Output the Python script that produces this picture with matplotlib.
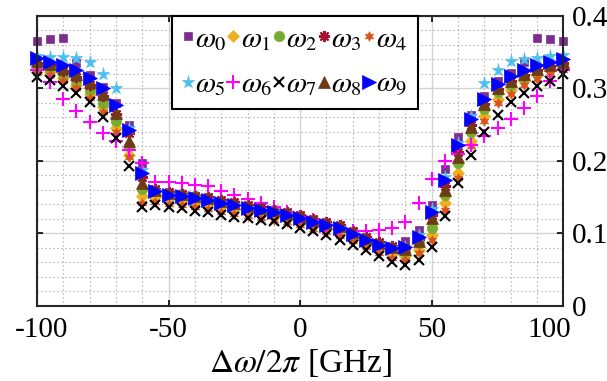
import numpy as np
import matplotlib
matplotlib.use("Agg")
import matplotlib.pyplot as plt
from matplotlib.ticker import MultipleLocator
from matplotlib.transforms import ScaledTranslation

plt.rcParams['font.family'] = ['Liberation Serif', 'DejaVu Serif']
plt.rcParams['mathtext.fontset'] = 'stix'
plt.rcParams['axes.unicode_minus'] = False

# detuning axis, -100..100 GHz in steps of 5
x = np.arange(-100, 101, 5)

w0 = [0.365, 0.368, 0.369, 0.335, 0.318, 0.302, 0.280, 0.250,
      0.197, 0.160, 0.154, 0.152, 0.150, 0.147, 0.143, 0.140, 0.136, 0.133, 0.130, 0.127,
      0.122, 0.117, 0.113, 0.108, 0.100, 0.092, 0.085, 0.082, 0.089, 0.105,
      0.139, 0.189, 0.233, 0.263, 0.290, 0.310, 0.322, 0.336, 0.369, 0.368, 0.365]
w1 = [0.328, 0.323, 0.315, 0.305, 0.292, 0.274, 0.245, 0.208,
      0.151, 0.150, 0.147, 0.145, 0.142, 0.140, 0.136, 0.133, 0.129, 0.126, 0.123, 0.120,
      0.115, 0.110, 0.106, 0.101, 0.093, 0.085, 0.078, 0.072, 0.069, 0.077,
      0.098, 0.142, 0.183, 0.228, 0.262, 0.285, 0.298, 0.310, 0.318, 0.325, 0.330]
w2 = [0.332, 0.328, 0.320, 0.310, 0.298, 0.280, 0.255, 0.220,
      0.162, 0.158, 0.156, 0.154, 0.151, 0.149, 0.145, 0.142, 0.138, 0.135, 0.132, 0.128,
      0.124, 0.119, 0.115, 0.110, 0.102, 0.094, 0.086, 0.080, 0.075, 0.087,
      0.107, 0.153, 0.197, 0.240, 0.272, 0.295, 0.305, 0.315, 0.322, 0.328, 0.332]
w3 = [0.335, 0.332, 0.324, 0.316, 0.305, 0.290, 0.265, 0.238,
      0.178, 0.162, 0.157, 0.155, 0.152, 0.150, 0.146, 0.143, 0.139, 0.136, 0.133, 0.130,
      0.125, 0.120, 0.116, 0.111, 0.103, 0.095, 0.088, 0.083, 0.080, 0.092,
      0.125, 0.166, 0.212, 0.250, 0.278, 0.299, 0.310, 0.319, 0.326, 0.331, 0.335]
w4 = [0.322, 0.318, 0.310, 0.300, 0.287, 0.268, 0.240, 0.205,
      0.142, 0.143, 0.141, 0.139, 0.136, 0.134, 0.130, 0.127, 0.124, 0.121, 0.119, 0.116,
      0.111, 0.106, 0.102, 0.096, 0.089, 0.081, 0.073, 0.066, 0.064, 0.073,
      0.091, 0.132, 0.177, 0.220, 0.255, 0.280, 0.293, 0.305, 0.313, 0.320, 0.325]
w5 = [0.345, 0.344, 0.343, 0.342, 0.336, 0.320, 0.300, 0.246,
      0.188, 0.159, 0.153, 0.151, 0.149, 0.146, 0.142, 0.139, 0.135, 0.132, 0.129, 0.126,
      0.121, 0.116, 0.112, 0.107, 0.099, 0.091, 0.084, 0.080, 0.082, 0.098,
      0.134, 0.178, 0.225, 0.262, 0.307, 0.326, 0.338, 0.341, 0.342, 0.345, 0.346]
w6 = [0.326, 0.309, 0.286, 0.269, 0.254, 0.239, 0.227, 0.215,
      0.197, 0.171, 0.171, 0.169, 0.167, 0.165, 0.159, 0.153, 0.148, 0.142, 0.136, 0.130,
      0.123, 0.118, 0.112, 0.107, 0.104, 0.104, 0.105, 0.107, 0.116, 0.142,
      0.175, 0.200, 0.210, 0.222, 0.234, 0.245, 0.258, 0.273, 0.290, 0.310, 0.326]
w7 = [0.316, 0.312, 0.303, 0.294, 0.282, 0.261, 0.232, 0.193,
      0.136, 0.139, 0.137, 0.135, 0.131, 0.130, 0.126, 0.123, 0.121, 0.119, 0.117, 0.113,
      0.107, 0.103, 0.098, 0.091, 0.084, 0.077, 0.069, 0.061, 0.057, 0.063,
      0.082, 0.124, 0.169, 0.208, 0.240, 0.264, 0.282, 0.294, 0.303, 0.310, 0.320]
w8 = [0.338, 0.334, 0.328, 0.320, 0.309, 0.292, 0.266, 0.227,
      0.169, 0.160, 0.156, 0.154, 0.151, 0.149, 0.145, 0.142, 0.138, 0.135, 0.132, 0.128,
      0.124, 0.119, 0.115, 0.110, 0.102, 0.094, 0.087, 0.081, 0.078, 0.090,
      0.121, 0.160, 0.206, 0.247, 0.278, 0.300, 0.310, 0.320, 0.327, 0.332, 0.336]
w9 = [0.342, 0.337, 0.332, 0.325, 0.314, 0.300, 0.277, 0.243,
      0.183, 0.158, 0.153, 0.151, 0.149, 0.146, 0.142, 0.139, 0.135, 0.132, 0.129, 0.126,
      0.121, 0.116, 0.112, 0.107, 0.099, 0.091, 0.084, 0.080, 0.081, 0.095,
      0.130, 0.174, 0.222, 0.258, 0.285, 0.306, 0.317, 0.326, 0.332, 0.337, 0.340]

series = [w0, w1, w2, w3, w4, w5, w6, w7, w8, w9]
labels = [r'$\omega_{%d}$' % i for i in range(10)]
colors = ['#7E2F8E', '#EDB120', '#77AC30', '#A2142F', '#D95319',
          '#4DBEEE', '#FF00FF', '#000000', '#6E3B16', '#0000FF']
markers = ['s', 'D', 'o', (8, 2, 0), (6, 1, 0), '*', '+', 'x', '^', '>']
sizes = [6, 6.5, 7.5, 8, 7, 9.5, 10, 7.5, 8.5, 9.5]

fig = plt.figure(figsize=(6.07, 3.81), dpi=100)
ax = fig.add_axes([0.061, 0.197, 0.867, 0.761])

handles = []
for y, lab, c, m, s in zip(series, labels, colors, markers, sizes):
    mew = 1.5 if m in ('+', 'x', (8, 2, 0)) else 0.5
    h, = ax.plot(x, y, ls='none', marker=m, ms=s, color=c, mec=c, mfc=c,
                 mew=mew, label=lab, clip_on=False)
    handles.append(h)

ax.set_xlim(-100, 100)
ax.set_ylim(0, 0.4)
ax.set_xticks([-100, -50, 0, 50, 100])
ax.set_yticks([0, 0.1, 0.2, 0.3, 0.4])
ax.set_yticklabels(['0', '0.1', '0.2', '0.3', '0.4'])
ax.xaxis.set_minor_locator(MultipleLocator(10))
ax.yaxis.set_minor_locator(MultipleLocator(0.02))

ax.grid(which='major', color='#d4d4d4', lw=1.0, ls='-')
ax.grid(which='minor', color='#a8a8a8', lw=0.9, ls=(0, (1, 2.2)))
ax.set_axisbelow(True)

ax.tick_params(which='major', direction='in', top=True, bottom=True, left=True,
               right=True, labelleft=False, labelright=True, length=4, width=1.2,
               labelsize=21, pad=6)
ax.tick_params(axis='x', which='major', pad=8)
ax.tick_params(which='minor', length=0)
for sp in ax.spines.values():
    sp.set_linewidth(1.5)
    sp.set_color('#262626')

# end labels sit slightly inward in the original
xl = ax.get_xticklabels()
xl[0].set_transform(xl[0].get_transform() + ScaledTranslation(0.05, 0, fig.dpi_scale_trans))
xl[-1].set_transform(xl[-1].get_transform() + ScaledTranslation(-0.14, 0, fig.dpi_scale_trans))

ax.set_xlabel(r'$\Delta\omega/2\pi$ [GHz]', fontsize=24, labelpad=3)

order = [0, 5, 1, 6, 2, 7, 3, 8, 4, 9]
leg = ax.legend([handles[i] for i in order], [labels[i] for i in order],
                ncol=5, loc='upper center', bbox_to_anchor=(0.49, 1.0),
                borderaxespad=0, fontsize=21, handlelength=0.4,
                handletextpad=0.05, columnspacing=0.02, labelspacing=0.65,
                borderpad=0.35, fancybox=False, framealpha=1, edgecolor='black')
leg.get_frame().set_linewidth(1.5)

fig.savefig('out.png', dpi=100)
